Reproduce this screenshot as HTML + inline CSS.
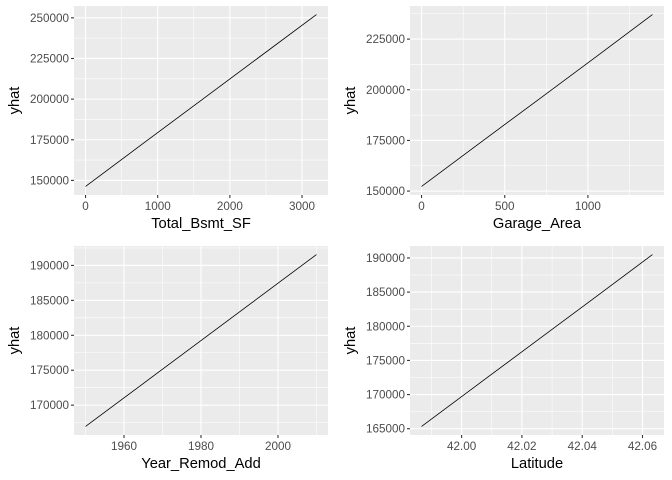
<!DOCTYPE html>
<html><head><meta charset="utf-8">
<style>
html,body{margin:0;padding:0;background:#fff;}
svg{display:block;font-family:"Liberation Sans",Arial,sans-serif;}
</style></head>
<body>
<svg id="chart" width="672" height="480" viewBox="0 0 672 480"></svg>
<script>
// Panel 1: Total_Bsmt_SF
const p1X = [0, 800, 1600, 2400, 3200];
const p1Y = [146300, 172800, 199200, 225600, 252000];
const p1XTicks = [0, 1000, 2000, 3000];
const p1YTicks = [150000, 175000, 200000, 225000, 250000];
// Panel 2: Garage_Area
const p2X = [0, 350, 700, 1050, 1388];
const p2Y = [152300, 173700, 195000, 216300, 237100];
const p2XTicks = [0, 500, 1000];
const p2YTicks = [150000, 175000, 200000, 225000];
// Panel 3: Year_Remod_Add
const p3X = [1950, 1965, 1980, 1995, 2010];
const p3Y = [166960, 173100, 179250, 185400, 191550];
const p3XTicks = [1960, 1980, 2000];
const p3YTicks = [170000, 175000, 180000, 185000, 190000];
// Panel 4: Latitude
const p4X = [41.9867, 42.0058, 42.025, 42.0442, 42.0633];
const p4Y = [165340, 171620, 177910, 184200, 190490];
const p4XTicks = [42.00, 42.02, 42.04, 42.06];
const p4YTicks = [165000, 170000, 175000, 180000, 185000, 190000];

const NS = "http://www.w3.org/2000/svg";
const svg = document.getElementById('chart');
function mk(tag, attrs, parent){const e=document.createElementNS(NS,tag);for(const k in attrs)e.setAttribute(k,attrs[k]);(parent||svg).appendChild(e);return e;}

function panel(name, px, py, pw, ph, xs, ys, xt, yt, xdec, xlab){
  const g = mk('g',{});
  
  
  const xmin=Math.min(...xs), xmax=Math.max(...xs), ymin=Math.min(...ys), ymax=Math.max(...ys);
  const xr=xmax-xmin, yr=ymax-ymin;
  const x0=xmin-0.05*xr, x1=xmax+0.05*xr, y0=ymin-0.05*yr, y1=ymax+0.05*yr;
  const sx=v=>px+(v-x0)/(x1-x0)*pw;
  const sy=v=>py+ph-(v-y0)/(y1-y0)*ph;
  const bg = mk('rect',{x:px,y:py,width:pw,height:ph,fill:'#EBEBEB'},g);
  
  
  const xstep=xt[1]-xt[0], ystep=yt[1]-yt[0];
  for(let v=xt[0]-xstep/2; v<=x1; v+=xstep){ if(v>=x0){const x=sx(v);mk('line',{x1:x,x2:x,y1:py,y2:py+ph,stroke:'#fff','stroke-width':0.55},g);} }
  for(let v=yt[0]-ystep/2; v<=y1; v+=ystep){ if(v>=y0){const y=sy(v);mk('line',{x1:px,x2:px+pw,y1:y,y2:y,stroke:'#fff','stroke-width':0.55},g);} }
  xt.forEach(v=>{const x=sx(v);
    mk('line',{x1:x,x2:x,y1:py,y2:py+ph,stroke:'#fff','stroke-width':1.1},g);
    mk('line',{x1:x,x2:x,y1:py+ph,y2:py+ph+3,stroke:'#333','stroke-width':1.1},g);
    const t=mk('text',{x:x,y:py+ph+15,'text-anchor':'middle','font-size':'11.7',fill:'#4D4D4D'},g);
    t.textContent=v.toFixed(xdec);
    
    
  });
  yt.forEach(v=>{const y=sy(v);
    mk('line',{x1:px,x2:px+pw,y1:y,y2:y,stroke:'#fff','stroke-width':1.1},g);
    mk('line',{x1:px-3,x2:px,y1:y,y2:y,stroke:'#333','stroke-width':1.1},g);
    const t=mk('text',{x:px-5,y:y+4,'text-anchor':'end','font-size':'11.7',fill:'#4D4D4D'},g);
    t.textContent=String(v);
    
    
  });
  const pts=xs.map((v,i)=>sx(v).toFixed(2)+','+sy(ys[i]).toFixed(2)).join(' ');
  const ln=mk('polyline',{points:pts,fill:'none',stroke:'#000','stroke-width':0.8},g);
  
  
  const xl=mk('text',{x:px+pw/2,y:py+ph+33,'text-anchor':'middle','font-size':'14.7',fill:'#000'},g);
  xl.textContent=xlab;
  
  
  const yl=mk('text',{x:0,y:0,'text-anchor':'middle','font-size':'14.7',fill:'#000',transform:'translate('+(px-55)+','+(py+ph/2)+') rotate(-90)'},g);
  yl.textContent='yhat';
  
  
}
panel('total-bsmt-sf', 74, 6, 254, 189, p1X, p1Y, p1XTicks, p1YTicks, 0, 'Total_Bsmt_SF');
panel('garage-area', 410, 6, 254, 189, p2X, p2Y, p2XTicks, p2YTicks, 0, 'Garage_Area');
panel('year-remod-add', 74, 246, 254, 189, p3X, p3Y, p3XTicks, p3YTicks, 0, 'Year_Remod_Add');
panel('latitude', 410, 246, 254, 189, p4X, p4Y, p4XTicks, p4YTicks, 2, 'Latitude');
</script>
</body></html>
